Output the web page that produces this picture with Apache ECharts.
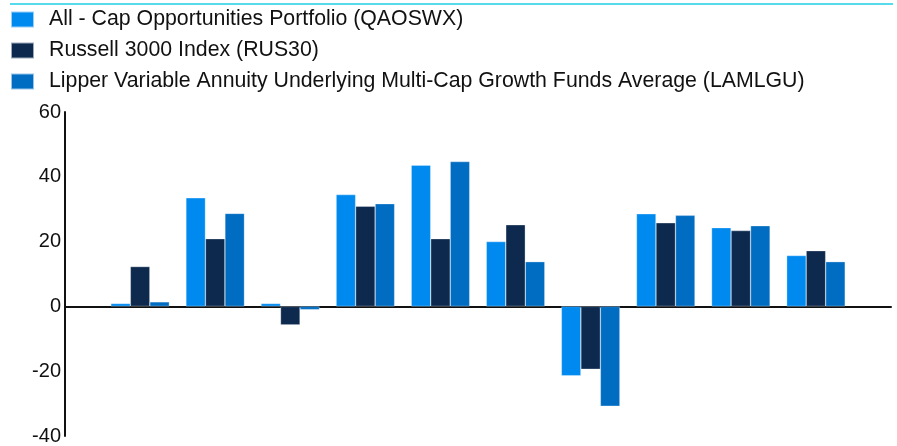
<!DOCTYPE html>
<html>
<head>
<meta charset="utf-8">
<script src="https://cdn.jsdelivr.net/npm/echarts@6/dist/echarts.min.js"></script>
<style>
html,body{margin:0;padding:0;background:#fff;}
#chart{width:897px;height:446px;}
</style>
</head>
<body>
<div id="chart"></div>
<script>
// Ten periods (no labels shown on the x axis in the reference)
const categories = ['P1','P2','P3','P4','P5','P6','P7','P8','P9','P10'];
const seriesNames = [
  'All - Cap Opportunities Portfolio (QAOSWX)',
  'Russell 3000 Index (RUS30)',
  'Lipper Variable Annuity Underlying Multi-Cap Growth Funds Average (LAMLGU)'
];
const portfolio = [0.9, 33.5, 0.9, 34.5, 43.6, 20.0, -21.4, 28.6, 24.3, 15.7];
const russell   = [12.3, 20.9, -5.7, 30.9, 20.9, 25.2, -19.4, 25.8, 23.4, 17.2];
const lipper    = [1.4, 28.7, -1.0, 31.7, 44.7, 13.8, -30.8, 28.1, 24.9, 13.8];
const yTicks = [-40, -20, 0, 20, 40, 60];

const colors = ['#008AF0', '#0D2A4E', '#006DC2'];
const font = 'Arial, "Liberation Sans", sans-serif';

// pad with an empty slot at each end so the axis spans 11 band widths
const axisCats = [''].concat(categories.map(() => '')).concat(['']);
const pad = arr => [null].concat(arr).concat([null]);

const chart = echarts.init(document.getElementById('chart'));
chart.setOption({
  animation: false,
  color: colors,
  textStyle: { fontFamily: font },
  graphic: [{
    type: 'line',
    shape: { x1: 10, y1: 4, x2: 893, y2: 4 },
    style: { stroke: '#1CCFE6', lineWidth: 1.5 }
  }],
  legend: {
    orient: 'vertical',
    left: 10,
    top: 9,
    padding: 0,
    itemWidth: 23,
    itemHeight: 16,
    itemGap: 10,
    icon: 'rect',
    data: seriesNames,
    textStyle: { fontSize: 21.3, color: '#111', fontFamily: font, padding: [0, 0, 0, 10] }
  },
  grid: { left: 65, right: 6, top: 112, bottom: 8, containLabel: false },
  xAxis: {
    type: 'category',
    data: axisCats,
    boundaryGap: false,
    axisLine: { onZero: true, lineStyle: { color: '#111', width: 2 } },
    axisTick: { show: false },
    axisLabel: { show: false },
    splitLine: { show: false }
  },
  yAxis: {
    type: 'value',
    min: yTicks[0],
    max: yTicks[yTicks.length - 1],
    interval: 20,
    axisLine: { show: true, lineStyle: { color: '#111', width: 2 } },
    axisTick: { show: false },
    splitLine: { show: false },
    axisLabel: { fontSize: 20, color: '#111', margin: 4, fontFamily: font }
  },
  series: [
    { name: seriesNames[0], type: 'bar', data: pad(portfolio), barWidth: 19.5, barGap: '0%' },
    { name: seriesNames[1], type: 'bar', data: pad(russell), barWidth: 19.5, barGap: '0%' },
    { name: seriesNames[2], type: 'bar', data: pad(lipper), barWidth: 19.5, barGap: '0%' }
  ].map(s => Object.assign(s, { itemStyle: { borderColor: 'rgba(255,255,255,0.6)', borderWidth: 0.5 } }))
});
</script>
</body>
</html>
